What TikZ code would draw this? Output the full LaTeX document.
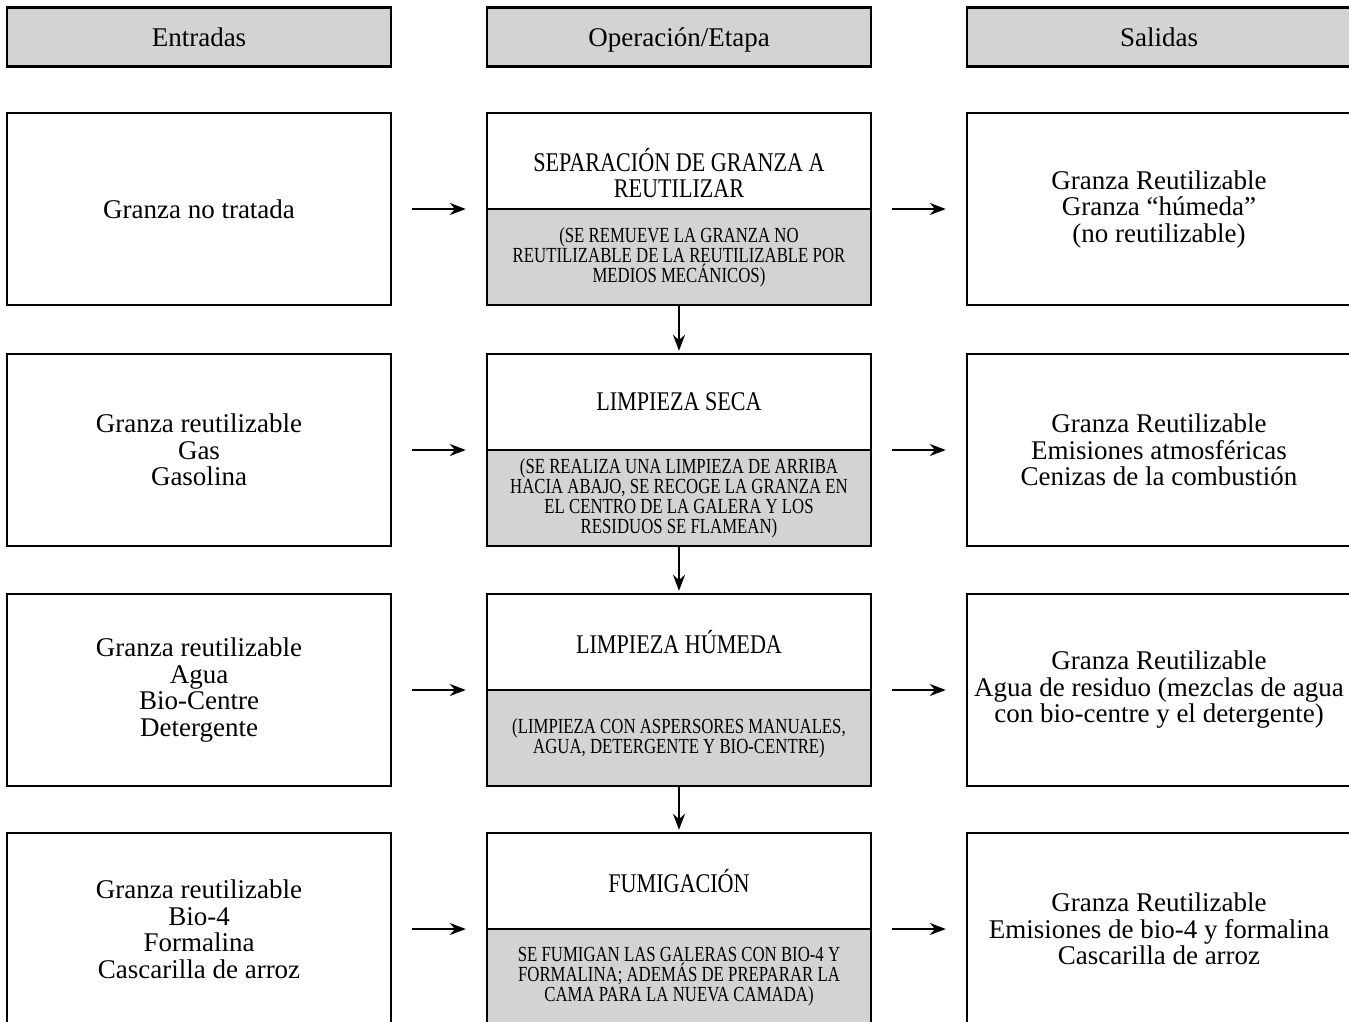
\documentclass[tikz,border=0pt]{standalone}
\usepackage{fontspec}
\setmainfont{Liberation Serif}
\newfontfamily\condfont[FakeStretch=0.82]{Liberation Serif}
\newfontfamily\narrowfont[FakeStretch=0.78]{Liberation Serif}
\usetikzlibrary{arrows.meta}
\definecolor{boxgray}{RGB}{209,211,212}
\tikzset{
  base/.style={draw, line width=2.4pt, minimum width=384pt, align=center, inner sep=0pt},
  hdr/.style={base, fill=boxgray, minimum height=59pt, text height=23pt, text depth=4pt, font=\fontsize{27}{26.5}\selectfont},
  sidebox/.style={base, minimum height=192pt, font=\fontsize{27}{26.5}\selectfont},
  optop/.style={base, minimum height=96pt, font=\condfont\fontsize{27}{26}\selectfont},
  opbot/.style={base, fill=boxgray, minimum height=96pt, font=\narrowfont\fontsize{21.5}{20}\selectfont},
  optext/.style={align=center, inner sep=0pt, font=\condfont\fontsize{27}{26}\selectfont},
  harr/.style={-{Stealth[length=16pt,width=12pt]}, line width=2.2pt, shorten <=20pt, shorten >=20pt},
  varr/.style={-{Stealth[length=16pt,width=12pt]}, line width=2.2pt, shorten >=2pt}
}
\begin{document}
\begin{tikzpicture}[x=1pt,y=-1pt]
\useasboundingbox (0,0) rectangle (1349,1021);
\clip (0,0) rectangle (1349,1021);
% headers
\node[hdr] (h1) at (199,37) {Entradas};
\node[hdr] (h2) at (679,37) {Operación/Etapa};
\node[hdr] (h3) at (1159,37) {Salidas};
% row 1
\node[sidebox] (in1) at (199,209) {Granza no tratada};
\node[optop] (op1t) at (679,161) {};
\node[optext] (op1l) at (679,173) {SEPARACIÓN DE GRANZA A\\REUTILIZAR};
\node[opbot] (op1b) at (679,257) {(SE REMUEVE LA GRANZA NO\\REUTILIZABLE DE LA REUTILIZABLE POR\\MEDIOS MECÁNICOS)};
\node[sidebox] (out1) at (1159,209) {Granza Reutilizable\\Granza “húmeda”\\(no reutilizable)};
% row 2
\node[sidebox] (in2) at (199,450) {Granza reutilizable\\Gas\\Gasolina};
\node[optop] (op2t) at (679,402) {LIMPIEZA SECA};
\node[opbot] (op2b) at (679,498) {(SE REALIZA UNA LIMPIEZA DE ARRIBA\\HACIA ABAJO, SE RECOGE LA GRANZA EN\\EL CENTRO DE LA GALERA Y LOS\\RESIDUOS SE FLAMEAN)};
\node[sidebox] (out2) at (1159,450) {Granza Reutilizable\\Emisiones atmosféricas\\Cenizas de la combustión};
% row 3
\node[sidebox] (in3) at (199,690) {Granza reutilizable\\Agua\\Bio-Centre\\Detergente};
\node[optop] (op3t) at (679,642) {LIMPIEZA HÚMEDA};
\node[opbot] (op3b) at (679,738) {(LIMPIEZA CON ASPERSORES MANUALES,\\AGUA, DETERGENTE Y BIO-CENTRE)};
\node[sidebox] (out3) at (1159,690) {Granza Reutilizable\\Agua de residuo (mezclas de agua\\con bio-centre y el detergente)};
% row 4
\node[sidebox] (in4) at (199,929) {Granza reutilizable\\Bio-4\\Formalina\\Cascarilla de arroz};
\node[optop] (op4t) at (679,881) {FUMIGACIÓN};
\node[opbot] (op4b) at (679,977) {SE FUMIGAN LAS GALERAS CON BIO-4 Y\\FORMALINA; ADEMÁS DE PREPARAR LA\\CAMA PARA LA NUEVA CAMADA)};
\node[sidebox] (out4) at (1159,929) {Granza Reutilizable\\Emisiones de bio-4 y formalina\\Cascarilla de arroz};
% horizontal arrows
\foreach \r in {1,2,3,4}{
  \draw[harr] (in\r.east) -- (in\r.east -| op\r t.west);
  \draw[harr] (in\r.east -| op\r t.east) -- (in\r.east -| out\r.west);
}
% vertical arrows
\draw[varr] (op1b.south) -- (op2t.north);
\draw[varr] (op2b.south) -- (op3t.north);
\draw[varr] (op3b.south) -- (op4t.north);
\end{tikzpicture}
\end{document}
